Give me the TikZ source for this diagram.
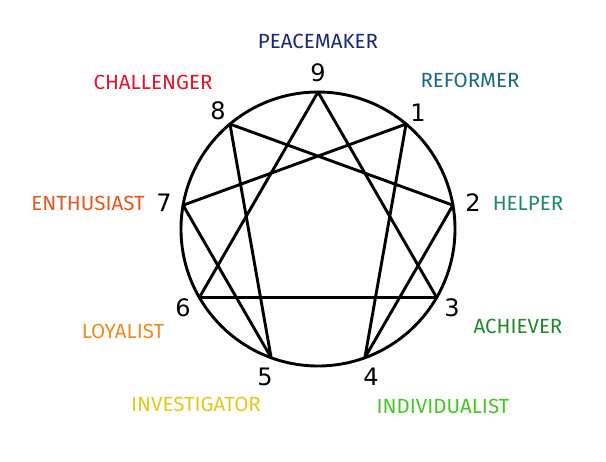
\documentclass[tikz,border=0pt]{standalone}
\usepackage{fontspec}
\usetikzlibrary{calc}
\setmainfont{Fira Sans}
\newfontfamily\numfont{DejaVu Sans}
\definecolor{cpeace}{HTML}{15287A}
\definecolor{cchall}{HTML}{E8102A}
\definecolor{creform}{HTML}{1B6680}
\definecolor{centh}{HTML}{E8561C}
\definecolor{chelp}{HTML}{1B8A6E}
\definecolor{cloyal}{HTML}{F08C1A}
\definecolor{cachiev}{HTML}{1E8A2A}
\definecolor{cinvest}{HTML}{E8C81A}
\definecolor{cindiv}{HTML}{44C822}
\begin{document}
\begin{tikzpicture}[x=1pt,y=-1pt,
  lbl/.style={font=\fontsize{20.5}{24}\selectfont, inner sep=0pt},
  num/.style={font=\numfont\fontsize{24}{28}\selectfont, inner sep=0pt},
  edge/.style={line width=2.9pt, line join=round, line cap=round}]
\useasboundingbox (0,0) rectangle (606,462);
\fill[white] (0,0) rectangle (606,462);
\coordinate (c) at (318,229);
\foreach \i in {0,...,8} {
  \coordinate (p\i) at ($(c)+({137*sin(40*\i)},{-137*cos(40*\i)})$);
}
\draw[edge] (c) circle[radius=137];
\draw[edge] (p1) -- (p4) -- (p2) -- (p8) -- (p5) -- (p7) -- cycle;
\draw[edge] (p0) -- (p3) -- (p6) -- cycle;
% numbers
\node[num] (n9) at (318,73) {9};
\node[num] (n1) at (418,113) {1};
\node[num] (n2) at (473,203) {2};
\node[num] (n3) at (452,308) {3};
\node[num] (n4) at (371,377) {4};
\node[num] (n5) at (265,377) {5};
\node[num] (n6) at (183,308) {6};
\node[num] (n7) at (164,203) {7};
\node[num] (n8) at (218,111) {8};
% labels
\node[lbl, text=cpeace] (l9) at (318,41) {PEACEMAKER};
\node[lbl, text=creform] (l1) at (470,80) {REFORMER};
\node[lbl, text=chelp] (l2) at (528,203) {HELPER};
\node[lbl, text=cachiev] (l3) at (518,326) {ACHIEVER};
\node[lbl, text=cindiv] (l4) at (443,406) {INDIVIDUALIST};
\node[lbl, text=cinvest] (l5) at (196,404) {INVESTIGATOR};
\node[lbl, text=cloyal] (l6) at (123,331) {LOYALIST};
\node[lbl, text=centh] (l7) at (88,203) {ENTHUSIAST};
\node[lbl, text=cchall] (l8) at (153,82) {CHALLENGER};
\end{tikzpicture}
\end{document}
